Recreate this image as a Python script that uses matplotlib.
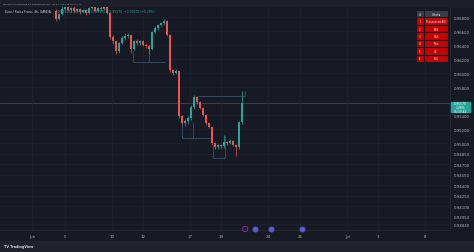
import matplotlib
matplotlib.use("Agg")
import matplotlib.pyplot as plt
from matplotlib.patches import Rectangle

# EUR/CHF 4h candles
first_open = 0.96890
closes = [0.96776, 0.96847, 0.96919, 0.96947, 0.96904, 0.96933, 0.96890, 0.96919, 0.96876, 0.96904,
          0.96861, 0.96933, 0.96947, 0.96890, 0.96933, 0.96919, 0.96947, 0.96861, 0.96519, 0.96461,
          0.96319, 0.96433, 0.96504, 0.96533, 0.96547, 0.96347, 0.96461, 0.96433, 0.96461, 0.96404,
          0.96390, 0.96347, 0.96590, 0.96647, 0.96690, 0.96719, 0.96747, 0.96547, 0.96047, 0.96004,
          0.96033, 0.95390, 0.95290, 0.95319, 0.95361, 0.95519, 0.95661, 0.95590, 0.95504, 0.95404,
          0.95290, 0.95233, 0.95004, 0.94947, 0.94976, 0.94961, 0.95019, 0.95004, 0.95033, 0.94976,
          0.94947, 0.95304, 0.95576]
highs = [0.96919, 0.96861, 0.96961, 0.96976, 0.96961, 0.96947, 0.96961, 0.96933, 0.96933, 0.96919,
         0.96919, 0.96947, 0.96976, 0.96961, 0.96947, 0.96961, 0.96976, 0.96961, 0.96876, 0.96547,
         0.96476, 0.96447, 0.96533, 0.96576, 0.96576, 0.96561, 0.96476, 0.96490, 0.96476, 0.96476,
         0.96433, 0.96404, 0.96604, 0.96676, 0.96704, 0.96733, 0.96776, 0.96761, 0.96561, 0.96061,
         0.96061, 0.96047, 0.95404, 0.95347, 0.95390, 0.95547, 0.95690, 0.95676, 0.95604, 0.95519,
         0.95419, 0.95304, 0.95247, 0.95019, 0.94990, 0.94990, 0.95119, 0.95033, 0.95061, 0.95047,
         0.94990, 0.95319, 0.95747]
lows = [0.96747, 0.96761, 0.96833, 0.96904, 0.96890, 0.96876, 0.96861, 0.96876, 0.96847, 0.96861,
        0.96833, 0.96847, 0.96919, 0.96876, 0.96876, 0.96890, 0.96904, 0.96847, 0.96490, 0.96419,
        0.96276, 0.96290, 0.96419, 0.96476, 0.96504, 0.96290, 0.96333, 0.96404, 0.96404, 0.96390,
        0.96361, 0.96276, 0.96333, 0.96576, 0.96619, 0.96676, 0.96690, 0.96533, 0.96019, 0.95976,
        0.95990, 0.95361, 0.95261, 0.95247, 0.95276, 0.95333, 0.95490, 0.95561, 0.95490, 0.95390,
        0.95261, 0.95219, 0.94976, 0.94919, 0.94919, 0.94933, 0.94933, 0.94976, 0.94990, 0.94961,
        0.94819, 0.94919, 0.95276]

# drawn boxes: horizontal (bar from, bar to, price), vertical (bar, price from, price to)
h_lines = [(25.7, 36.3, 0.96161), (47.3, 63.0, 0.95676), (42.0, 51.3, 0.95076), (52.3, 56.3, 0.94790)]
v_lines = [(25.7, 0.96319, 0.96161), (31.0, 0.96419, 0.96161), (63.0, 0.95747, 0.95676),
           (42.0, 0.95304, 0.95076), (45.7, 0.95304, 0.95076), (52.3, 0.94961, 0.94790),
           (56.3, 0.95119, 0.94790)]

# economic events on the time axis (bar positions)
event_bars = [63, 66.3, 71.7, 82]

time_ticks = [-8, 3, 18.7, 29, 44.7, 55, 70.7, 81.3, 97, 107.3, 123]
time_labels = ["Jun", "5", "10", "12", "17", "19", "24", "26", "Jul", "3", "8"]
price_ticks = [0.968, 0.966, 0.964, 0.962, 0.960, 0.958, 0.954, 0.952, 0.950, 0.9485,
               0.947, 0.9455, 0.944, 0.9425, 0.941, 0.9395, 0.9384]

criteria_ids = ["1", "2", "3", "4", "5", "6"]
criteria = ["Pronounced AOI", "BOS", "H&S", "Fibo", "HE", "FVG"]

BG = '#161a25'
UP = '#26a69a'
DOWN = '#ef5350'
TXT = '#b2b5be'
GRID = '#1f2330'
BOX = '#39506d'

fig = plt.figure(figsize=(4.74, 2.53), dpi=100, facecolor=BG)
fig.add_artist(Rectangle((0, 1 - 8/253), 1, 8/253, transform=fig.transFigure, color='#1b1f2a', zorder=0))
fig.add_artist(Rectangle((0, 0), 1, 11/253, transform=fig.transFigure, color='#1e222d', zorder=0))

ax = fig.add_axes([0, 1 - 231/253, 450/474, 223/253])
ax.set_facecolor(BG)
ax.set_xlim(-18.7, 131.3)
ax.set_ylim(0.93761, 0.96947)

opens = [first_open] + closes[:-1]
for i, (o, h, l, c) in enumerate(zip(opens, highs, lows, closes)):
  col = UP if c >= o else DOWN
  ax.vlines(i, l, h, color=col, lw=0.5, zorder=3)
  ax.bar(i, c - o if abs(c - o) > 0.00003 else 0.00004, bottom=o, width=0.7, color=col, lw=0, zorder=4)

for x0, x1, p in h_lines:
  ax.hlines(p, x0, x1, color=BOX, lw=0.6, zorder=2)
for x, p0, p1 in v_lines:
  ax.vlines(x, p0, p1, color=BOX, lw=0.6, zorder=2)

# last price line
ax.axhline(closes[-1], color='#4a4f5c', lw=0.5, zorder=1)

ax.scatter(event_bars[:1], [0.93776], s=14, facecolor='none', edgecolor='#9c27b0', lw=0.6, clip_on=False, zorder=5)
ax.scatter(event_bars[1:], [0.93776] * 3, s=14, facecolor='#3d6fd6', edgecolor='#7b3fa8', lw=0.6, clip_on=False, zorder=5)

ax.set_xticks(time_ticks, time_labels)
ax.set_yticks(price_ticks, [f"{p:.5f}" for p in price_ticks])
ax.yaxis.tick_right()
ax.tick_params(axis='both', length=0, labelsize=2.8, labelcolor=TXT, pad=3)
ax.grid(color=GRID, lw=0.5)
for s in ['left', 'top']:
  ax.spines[s].set_visible(False)
ax.spines['right'].set_color('#2a2e39')
ax.spines['bottom'].set_color('#2a2e39')
ax.spines['right'].set_linewidth(0.5)
ax.spines['bottom'].set_linewidth(0.5)

# price label on the axis
fig.add_artist(Rectangle((451/474, 1 - 113/253), 19/474, 10/253, transform=fig.transFigure, color=UP, zorder=6))
fig.text(460.5/474, 1 - 108/253, "0.95576\n1.08%\n01:33:42", color='white', fontsize=2.2,
         ha='center', va='center', linespacing=1.1, zorder=7)

# header texts
fig.text(3/474, 1 - 4/253, "mervevrcip published on TradingView.com, Jun 20, 2024 16:35 UTC+2",
         color=TXT, fontsize=1.6, va='center')
fig.text(5/474, 1 - 12/253, "Euro / Swiss Franc, 4h, OANDA", color='#d1d4dc', fontsize=2.2, va='center')
fig.text(57/474, 1 - 12/253, "O0.95304  H0.95747  L0.95276  C0.95576  +0.00272 (+0.29%)",
         color=UP, fontsize=2.2, va='center')
fig.text(4/474, 5.5/253, "TV TradingView", color='#d1d4dc', fontsize=2.4, va='center', fontweight='bold')

# criteria table
tab_ax = fig.add_axes([416/474, 1 - 63/253, 32/474, 52/253])
tab_ax.axis('off')
cells = [["#", "Criteria"]] + [[n, t] for n, t in zip(criteria_ids, criteria)]
colors = [['#3a3e4a', '#3a3e4a']] + [['#c70000', '#c70000']] * len(criteria)
tab = tab_ax.table(cellText=cells, cellColours=colors, colWidths=[0.25, 0.75], bbox=[0, 0, 1, 1], cellLoc='center')
tab.auto_set_font_size(False)
for (r, c), cell in tab.get_celld().items():
  cell.set_edgecolor(BG)
  cell.set_linewidth(0.8)
  cell.get_text().set_fontsize(1.8)
  cell.get_text().set_color('white')

fig.savefig("out.png", dpi=100, facecolor=BG)
